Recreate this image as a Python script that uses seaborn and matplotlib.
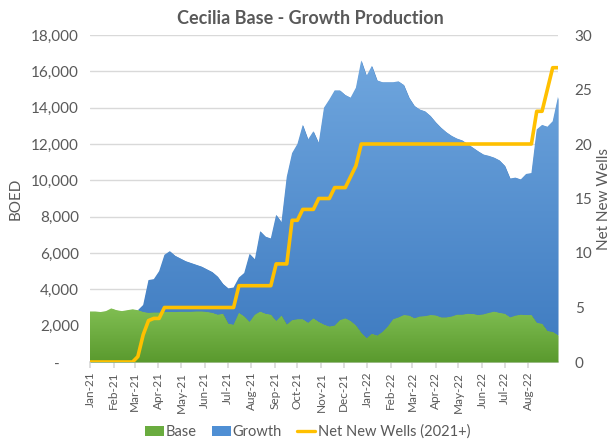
import numpy as np
import pandas as pd
import matplotlib
matplotlib.use('Agg')
import matplotlib.pyplot as plt
import matplotlib.dates as mdates
from matplotlib.colors import LinearSegmentedColormap
from matplotlib.patches import Patch
from matplotlib.lines import Line2D
from matplotlib.ticker import FuncFormatter
import seaborn as sns

# ==================== DATA (weekly) ====================
weeks = pd.date_range('2021-01-01', periods=89, freq='7D')

total_boed = [
    2780, 2780, 2750, 2800, 2950, 2850, 2800, 2850, 2900, 2850,
    3140, 4510, 4560, 5000, 5900, 6100, 5850, 5700, 5550, 5450,
    5350, 5250, 5100, 4950, 4700, 4300, 4050, 4100, 4650, 4900,
    5950, 5650, 7200, 6900, 6800, 8100, 7700, 10200, 11500, 12000,
    13050, 12250, 12700, 12050, 14000, 14450, 14950, 14950, 14700, 14550,
    15100, 16600, 15750, 16300, 15500, 15400, 15400, 15400, 15450, 15250,
    14550, 14100, 13900, 13800, 13550, 13200, 12900, 12650, 12450, 12300,
    12200, 12000, 11800, 11600, 11420, 11350, 11250, 11100, 10800, 10100,
    10150, 10050, 10350, 10400, 12800, 13050, 12950, 13250, 14600,
]

base_boed = [
    2780, 2780, 2750, 2800, 2950, 2850, 2800, 2850, 2900, 2850,
    2750, 2700, 2720, 2720, 2750, 2750, 2750, 2760, 2760, 2760,
    2780, 2780, 2750, 2700, 2600, 2650, 2100, 2050, 2700, 2500,
    2200, 2600, 2770, 2650, 2600, 2250, 2550, 2050, 2300, 2350,
    2350, 2150, 2400, 2200, 2050, 1950, 2000, 2300, 2400, 2250,
    2000, 1600, 1300, 1550, 1450, 1650, 1950, 2350, 2450, 2580,
    2550, 2400, 2500, 2520, 2580, 2560, 2450, 2450, 2500, 2600,
    2600, 2650, 2640, 2580, 2620, 2700, 2770, 2700, 2650, 2450,
    2550, 2600, 2580, 2580, 2150, 2100, 1700, 1650, 1470,
]

net_new_wells = [
    0, 0, 0, 0, 0, 0, 0, 0, 0, 0.5,
    2.5, 3.8, 4, 4, 5, 5, 5, 5, 5, 5,
    5, 5, 5, 5, 5, 5, 5, 5, 7, 7,
    7, 7, 7, 7, 7, 9, 9, 9, 13, 13,
    14, 14, 14, 15, 15, 15, 16, 16, 16, 17,
    18, 20, 20, 20, 20, 20, 20, 20, 20, 20,
    20, 20, 20, 20, 20, 20, 20, 20, 20, 20,
    20, 20, 20, 20, 20, 20, 20, 20, 20, 20,
    20, 20, 20, 20, 23, 23, 25, 27, 27,
]

month_ticks = pd.date_range('2021-01-01', '2022-08-01', freq='MS')

df = pd.DataFrame({
    'Week': weeks,
    'Base': base_boed,
    'Total': total_boed,
    'Wells': net_new_wells,
})
df['Growth'] = df['Total'] - df['Base']

# ==================== STYLE ====================
sns.set_theme(style='white')
plt.rcParams['font.family'] = ['Lato', 'DejaVu Sans']

GRAY_TXT = '#595959'
GRID = '#d9d9d9'
YELLOW = '#FFC000'

fig = plt.figure(figsize=(6.15, 4.47), dpi=100)
ax = fig.add_axes([90 / 615, 1 - 362 / 447, 468 / 615, 327 / 447])

x_num = mdates.date2num(df['Week'])
x_min, x_max = x_num[0], x_num[-1]


def gradient_area(ax, x, y_lo, y_hi, c_top, c_bot, y_top, z):
    poly = ax.fill_between(x, y_lo, y_hi, color=c_bot, lw=0, zorder=z)
    cmap = LinearSegmentedColormap.from_list('grad', [c_bot, c_top])
    img = ax.imshow(np.linspace(0, 1, 256).reshape(-1, 1), cmap=cmap,
                    aspect='auto', origin='lower',
                    extent=[x_min, x_max, 0, y_top], zorder=z + 0.1)
    img.set_clip_path(poly.get_paths()[0], transform=ax.transData)
    return poly


gradient_area(ax, x_num, df['Base'], df['Total'], '#6fa6de', '#3d7ac0', 16600, 2)
gradient_area(ax, x_num, 0, df['Base'], '#80be52', '#5a9a2e', 2950, 3)

ax.set_xlim(x_min, x_max)
ax.set_ylim(0, 18000)
ax.set_yticks(np.arange(0, 18001, 2000))
ax.yaxis.set_major_formatter(FuncFormatter(lambda v, p: '-     ' if v == 0 else f'{int(v):,}'))
ax.yaxis.grid(True, color=GRID, lw=1, zorder=0)
ax.set_axisbelow(True)

ax.set_xticks(mdates.date2num(month_ticks))
ax.set_xticklabels([d.strftime('%b-%y') for d in month_ticks], rotation=90,
                   fontsize=8.5, color=GRAY_TXT)
ax.tick_params(axis='x', length=4, color=GRID, direction='out', pad=3, bottom=True)
ax.tick_params(axis='y', length=0, labelsize=11, labelcolor=GRAY_TXT, pad=8)
ax.set_ylabel('BOED', fontsize=11, color=GRAY_TXT, labelpad=6)
for side in ['top', 'right', 'left']:
    ax.spines[side].set_visible(False)
ax.spines['bottom'].set_color(GRID)

# Secondary axis: wells
ax2 = ax.twinx()
sns.lineplot(x=x_num, y=df['Wells'], ax=ax2, color=YELLOW, lw=2.6,
             solid_joinstyle='round', zorder=5)
ax2.set_xlim(x_min, x_max)
ax2.set_ylim(0, 30)
ax2.set_yticks(np.arange(0, 31, 5))
ax2.tick_params(axis='y', length=0, labelsize=11, labelcolor=GRAY_TXT, pad=12)
ax2.set_ylabel('Net New Wells', fontsize=11, color=GRAY_TXT, labelpad=3)
for side in ['top', 'right', 'left', 'bottom']:
    ax2.spines[side].set_visible(False)

fig.text(0.505, 1 - 18 / 447, 'Cecilia Base - Growth Production', ha='center', va='center',
         fontsize=13, fontweight='bold', color=GRAY_TXT)

handles = [
    Patch(facecolor='#6aac3f', edgecolor='none', label='Base'),
    Patch(facecolor='#4f8fd4', edgecolor='none', label='Growth'),
    Line2D([0], [0], color=YELLOW, lw=2.4, label='Net New Wells (2021+)'),
]
fig.legend(handles=handles, loc='center', bbox_to_anchor=(0.5, 1 - 432 / 447), ncol=3,
           frameon=False, fontsize=10.5, handlelength=1.3, handletextpad=0.15,
           columnspacing=1.0, labelcolor=GRAY_TXT)

fig.savefig('out.png', dpi=100)
